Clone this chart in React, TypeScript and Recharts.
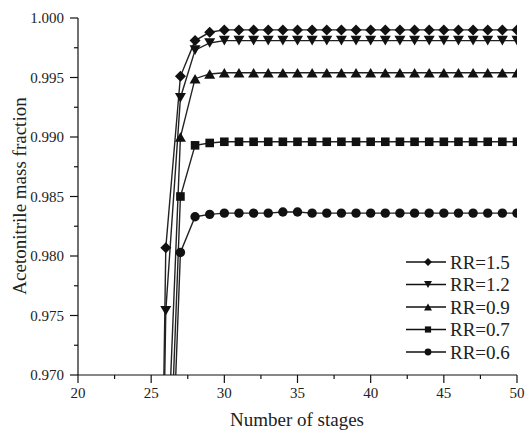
import { LineChart, Line, XAxis, YAxis } from "recharts";

// number of stages
const stages = [25, 26, 27, 28, 29, 30, 31, 32, 33, 34, 35, 36, 37, 38, 39, 40, 41, 42, 43, 44, 45, 46, 47, 48, 49, 50];

// acetonitrile mass fraction per reflux ratio
const rr15 = [0.898, 0.9807, 0.9951, 0.9981, 0.9988, 0.999, 0.999, 0.999, 0.999, 0.999, 0.999, 0.999, 0.999, 0.999, 0.999, 0.999, 0.999, 0.999, 0.999, 0.999, 0.999, 0.999, 0.999, 0.999, 0.999, 0.999];
const rr12 = [0.898, 0.9754, 0.9933, 0.9973, 0.9979, 0.9981, 0.9981, 0.9981, 0.9981, 0.9981, 0.9981, 0.9981, 0.9981, 0.9981, 0.9981, 0.9981, 0.9981, 0.9981, 0.9981, 0.9981, 0.9981, 0.9981, 0.9981, 0.9981, 0.9981, 0.9981];
const rr09 = [null, 0.9597, 0.99, 0.9949, 0.9953, 0.9954, 0.9954, 0.9954, 0.9954, 0.9954, 0.9954, 0.9954, 0.9954, 0.9954, 0.9954, 0.9954, 0.9954, 0.9954, 0.9954, 0.9954, 0.9954, 0.9954, 0.9954, 0.9954, 0.9954, 0.9954];
const rr07 = [null, 0.953, 0.985, 0.9893, 0.9895, 0.9896, 0.9896, 0.9896, 0.9896, 0.9896, 0.9896, 0.9896, 0.9896, 0.9896, 0.9896, 0.9896, 0.9896, 0.9896, 0.9896, 0.9896, 0.9896, 0.9896, 0.9896, 0.9896, 0.9896, 0.9896];
const rr06 = [null, 0.948, 0.9803, 0.9833, 0.9835, 0.9836, 0.9836, 0.9836, 0.9836, 0.9837, 0.9837, 0.9836, 0.9836, 0.9836, 0.9836, 0.9836, 0.9836, 0.9836, 0.9836, 0.9836, 0.9836, 0.9836, 0.9836, 0.9836, 0.9836, 0.9836];

const xTicks = [20, 22.5, 25, 27.5, 30, 32.5, 35, 37.5, 40, 42.5, 45, 47.5, 50];
const yTicks = [0.97, 0.9725, 0.975, 0.9775, 0.98, 0.9825, 0.985, 0.9875, 0.99, 0.9925, 0.995, 0.9975, 1.0];

const series = [
  { key: "rr15", name: "RR=1.5", shape: "diamond" },
  { key: "rr12", name: "RR=1.2", shape: "down" },
  { key: "rr09", name: "RR=0.9", shape: "up" },
  { key: "rr07", name: "RR=0.7", shape: "square" },
  { key: "rr06", name: "RR=0.6", shape: "circle" },
];

const data = stages.map((s, i) => ({
  stage: s,
  rr15: rr15[i],
  rr12: rr12[i],
  rr09: rr09[i],
  rr07: rr07[i],
  rr06: rr06[i],
}));

const INK = "#111";
const FONT = "'Liberation Serif', 'Times New Roman', serif";

function Marker({ shape, cx, cy, k = 1 }: { shape: string; cx: number; cy: number; k?: number }) {
  if (shape === "diamond") {
    const w = 5.5 * k, h = 5.5 * k;
    return <path d={`M${cx},${cy - h}L${cx + w},${cy}L${cx},${cy + h}L${cx - w},${cy}Z`} fill={INK} />;
  }
  if (shape === "down") {
    const w = 5.5 * k, h = 4.8 * k;
    return <path d={`M${cx - w},${cy - h}L${cx + w},${cy - h}L${cx},${cy + h}Z`} fill={INK} />;
  }
  if (shape === "up") {
    const w = 5.5 * k, h = 4.8 * k;
    return <path d={`M${cx - w},${cy + h}L${cx + w},${cy + h}L${cx},${cy - h}Z`} fill={INK} />;
  }
  if (shape === "square") {
    const s = 4.3 * k;
    return <rect x={cx - s} y={cy - s} width={2 * s} height={2 * s} fill={INK} />;
  }
  return <circle cx={cx} cy={cy} r={4.7 * k} fill={INK} />;
}

const XTick = (props: any) => {
  const { x, y, payload } = props;
  const major = Math.round(payload.value * 10) % 50 === 0;
  return (
    <g>
      <line x1={x} x2={x} y1={y} y2={y + (major ? 8 : 4)} stroke={INK} strokeWidth={1.2} />
      {major && (
        <text x={x} y={y + 23} textAnchor="middle" fontFamily={FONT} fontSize={15} fill="#222">
          {payload.value}
        </text>
      )}
    </g>
  );
};

const YTick = (props: any) => {
  const { x, y, payload } = props;
  const major = Math.round(payload.value * 10000) % 50 === 0;
  return (
    <g>
      <line x1={x - (major ? 8 : 4)} x2={x} y1={y} y2={y} stroke={INK} strokeWidth={1.2} />
      {major && (
        <text x={x - 14} y={y} dy="0.35em" textAnchor="end" fontFamily={FONT} fontSize={15} fill="#222">
          {payload.value.toFixed(3)}
        </text>
      )}
    </g>
  );
};

function LegendBox() {
  const rows = [262, 284.5, 307, 329.5, 352];
  return (
    <svg width={527} height={432} style={{ position: "absolute", left: 0, top: 0, pointerEvents: "none" }}>
      {series.map((s, i) => (
        <g key={s.key}>
          <line x1={406} x2={446} y1={rows[i]} y2={rows[i]} stroke={INK} strokeWidth={1.4} />
          <Marker shape={s.shape} cx={428} cy={rows[i]} k={0.72} />
          <text x={450} y={rows[i]} dy="0.35em" fontFamily={FONT} fontSize={19} fill="#222">
            {s.name}
          </text>
        </g>
      ))}
    </svg>
  );
}

export default function App() {
  return (
    <div style={{ position: "absolute", left: 0, top: 0, width: 527, height: 432, background: "#fff" }}>
      <LineChart width={527} height={432} data={data} margin={{ top: 18, right: 10, bottom: 0, left: 0 }}>
        <XAxis
          dataKey="stage"
          type="number"
          domain={[20, 50]}
          ticks={xTicks}
          interval={0}
          allowDataOverflow
          height={57}
          tickSize={0}
          tickMargin={0}
          tickLine={false}
          axisLine={{ stroke: INK, strokeWidth: 1.2 }}
          tick={XTick}
          label={{
            content: () => (
              <text x={297} y={426} textAnchor="middle" fontFamily={FONT} fontSize={19} fill="#222">
                Number of stages
              </text>
            ),
          }}
        />
        <YAxis
          type="number"
          domain={[0.97, 1.0]}
          ticks={yTicks}
          interval={0}
          allowDataOverflow
          width={78}
          tickSize={0}
          tickMargin={0}
          tickLine={false}
          axisLine={{ stroke: INK, strokeWidth: 1.2 }}
          tick={YTick}
          label={{
            content: () => (
              <text
                x={19}
                y={196}
                transform="rotate(-90 19 196)"
                textAnchor="middle"
                dy="0.35em"
                fontFamily={FONT}
                fontSize={19}
                fill="#222"
              >
                Acetonitrile mass fraction
              </text>
            ),
          }}
        />
        {series.map((s) => (
          <Line
            key={s.key}
            dataKey={s.key}
            name={s.name}
            type="linear"
            stroke="#222"
            strokeWidth={1.4}
            isAnimationActive={false}
            activeDot={false}
            dot={(p: any) =>
              p.cy == null || p.cx == null ? (
                <g key={p.key ?? p.index} />
              ) : (
                <g key={p.key ?? p.index}>
                  <Marker shape={s.shape} cx={p.cx} cy={p.cy} />
                </g>
              )
            }
          />
        ))}
      </LineChart>
      <LegendBox />
    </div>
  );
}
